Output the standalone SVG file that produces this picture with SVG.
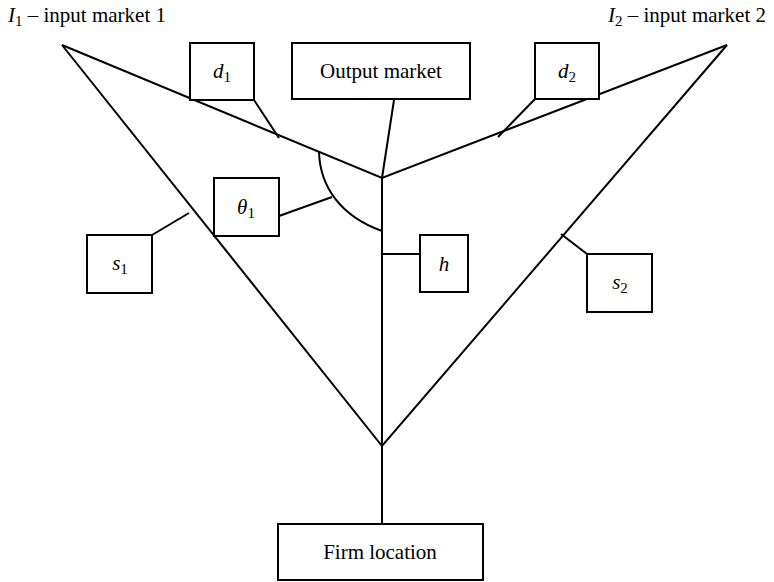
<svg xmlns="http://www.w3.org/2000/svg" width="774" height="582" viewBox="0 0 774 582">
<style>
.ln{stroke:#000;stroke-width:2;fill:none}
.bx{stroke:#000;stroke-width:2;fill:#fff}
.t{font-family:"Liberation Serif",serif;font-size:21px;fill:#000;text-anchor:middle}
.i{font-style:italic}
.sub{font-size:15px}
</style>
<rect width="774" height="582" fill="#fff"/>
<g id="connectors">
<path class="ln" d="M62,45 L382,178 L727,45"/>
<path class="ln" d="M62,45 L382,446 L727,45"/>
<path class="ln" d="M382,178 L382,524"/>
<path class="ln" d="M394,100 L382,178"/>
<path class="ln" d="M254,100 L279,138"/>
<path class="ln" d="M535,99 L498,137"/>
<path class="ln" d="M279,216 L332,197"/>
<path class="ln" d="M319,152 C320,186 340,216 382,231"/>
<path class="ln" d="M152,235 L189,213"/>
<path class="ln" d="M382,254 L420,254"/>
<path class="ln" d="M587,254 L561,234"/>
</g>
<g id="I1"><text class="t" x="8" y="22" style="text-anchor:start"><tspan class="i">I</tspan><tspan class="sub" dy="4">1</tspan><tspan dy="-4"> – input market 1</tspan></text></g>
<g id="I2"><text class="t" x="608" y="22" style="text-anchor:start"><tspan class="i">I</tspan><tspan class="sub" dy="4">2</tspan><tspan dy="-4"> – input market 2</tspan></text></g>
<g id="d1"><rect class="bx" x="190" y="43" width="64" height="57"/><text class="t" x="222" y="78"><tspan class="i">d</tspan><tspan class="sub" dy="4">1</tspan></text></g>
<g id="output"><rect class="bx" x="292" y="43" width="178" height="56"/><text class="t" x="381" y="78">Output market</text></g>
<g id="d2"><rect class="bx" x="535" y="43" width="64" height="56"/><text class="t" x="567" y="78"><tspan class="i">d</tspan><tspan class="sub" dy="4">2</tspan></text></g>
<g id="theta1"><rect class="bx" x="214" y="178" width="65" height="58"/><text class="t" x="246" y="214"><tspan class="i">θ</tspan><tspan class="sub" dy="4">1</tspan></text></g>
<g id="s1"><rect class="bx" x="87" y="235" width="65" height="58"/><text class="t" x="120" y="270"><tspan class="i">s</tspan><tspan class="sub" dy="4">1</tspan></text></g>
<g id="h"><rect class="bx" x="420" y="235" width="48" height="57"/><text class="t i" x="444" y="271">h</text></g>
<g id="s2"><rect class="bx" x="587" y="254" width="65" height="58"/><text class="t" x="620" y="289"><tspan class="i">s</tspan><tspan class="sub" dy="4">2</tspan></text></g>
<g id="firm"><rect class="bx" x="278" y="524" width="205" height="56"/><text class="t" x="380" y="559">Firm location</text></g>
</svg>
